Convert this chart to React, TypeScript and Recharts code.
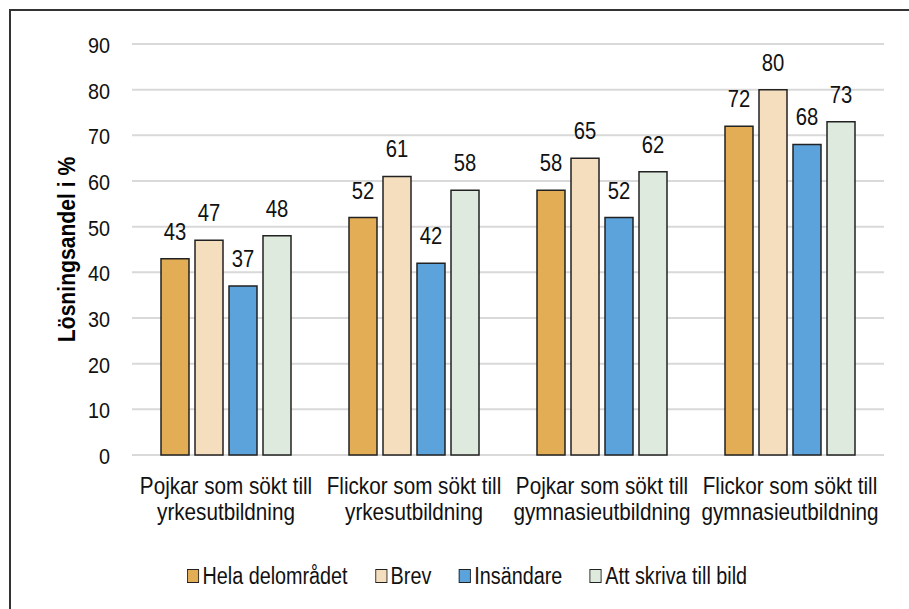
import { BarChart, Bar, XAxis, YAxis, CartesianGrid, Legend, LabelList } from 'recharts';

const categories = [
  'Pojkar som sökt till\nyrkesutbildning',
  'Flickor som sökt till\nyrkesutbildning',
  'Pojkar som sökt till\ngymnasieutbildning',
  'Flickor som sökt till\ngymnasieutbildning',
];
const helaDelomradet = [43, 52, 58, 72];
const brev = [47, 61, 65, 80];
const insandare = [37, 42, 52, 68];
const attSkriva = [48, 58, 62, 73];
const yTicks = [0, 10, 20, 30, 40, 50, 60, 70, 80, 90];

const data = categories.map((cat, i) => ({
  cat,
  hela: helaDelomradet[i],
  brev: brev[i],
  ins: insandare[i],
  bild: attSkriva[i],
}));

const series = [
  { key: 'hela', name: 'Hela delområdet', color: '#E3AD55' },
  { key: 'brev', name: 'Brev', color: '#F5DEBE' },
  { key: 'ins', name: 'Insändare', color: '#5BA3DA' },
  { key: 'bild', name: 'Att skriva till bild', color: '#DDEADD' },
];

// the original font is a bit narrow, so text is squeezed sideways
const SQUEEZE = 0.88;

function CategoryTick({ x, y, payload }: any) {
  const lines = String(payload.value).split('\n');
  return (
    <text transform={`translate(${x},${y}) scale(${SQUEEZE},1)`} textAnchor="middle" fill="#111" fontSize={23.5}>
      {lines.map((line, i) => (
        <tspan key={i} x={0} dy={i === 0 ? 39 : 26}>
          {line}
        </tspan>
      ))}
    </text>
  );
}

function ValueTick({ x, y, payload }: any) {
  return (
    <text
      transform={`translate(${x},${y}) scale(${SQUEEZE},1)`}
      textAnchor="end"
      dy="0.4em"
      fill="#111"
      fontSize={22.5}
    >
      {payload.value}
    </text>
  );
}

function BarValue({ x, y, width, value }: any) {
  return (
    <text
      transform={`translate(${x + width / 2},${y - 19}) scale(${SQUEEZE},1)`}
      textAnchor="middle"
      fill="#111"
      fontSize={23}
    >
      {value}
    </text>
  );
}

function AxisTitle({ viewBox }: any) {
  const cx = viewBox.x + viewBox.width / 2;
  const cy = viewBox.y + viewBox.height / 2;
  return (
    <text
      transform={`translate(${cx},${cy}) rotate(-90) scale(${SQUEEZE},1)`}
      textAnchor="middle"
      dy="0.36em"
      fill="#000"
      fontSize={24}
      fontWeight="bold"
    >
      Lösningsandel i %
    </text>
  );
}

function LegendContent() {
  return (
    <div
      style={{
        display: 'flex',
        alignItems: 'center',
        height: 30,
        fontSize: 23,
        color: '#111',
        transform: 'scaleX(0.86)',
        transformOrigin: 'left center',
        whiteSpace: 'nowrap',
      }}
    >
      {series.map((s, i) => (
        <div key={s.key} style={{ display: 'flex', alignItems: 'center', marginLeft: i === 0 ? 0 : 32 }}>
          <span
            style={{
              display: 'inline-block',
              width: 12,
              height: 12,
              background: s.color,
              border: '1.5px solid #222',
              marginRight: 4,
            }}
          />
          <span>{s.name}</span>
        </div>
      ))}
    </div>
  );
}

export default function App() {
  return (
    <div
      style={{
        position: 'absolute',
        top: 0,
        left: 0,
        width: 909,
        height: 609,
        overflow: 'hidden',
        background: '#fff',
        fontFamily: '"Liberation Sans", Arial, sans-serif',
      }}
    >
      <div
        style={{
          position: 'absolute',
          left: 9,
          top: 9,
          right: -10,
          bottom: -10,
          borderTop: '2px solid #333',
          borderLeft: '2px solid #333',
        }}
      />
      <BarChart
        width={909}
        height={609}
        data={data}
        margin={{ top: 44, right: 25, left: 0, bottom: 0 }}
        barCategoryGap={29}
        barGap={6}
      >
        <CartesianGrid vertical={false} stroke="#D9D9D9" strokeWidth={2} />
        <XAxis
          dataKey="cat"
          height={124}
          axisLine={false}
          tickLine={false}
          tickSize={0}
          tickMargin={0}
          interval={0}
          tick={<CategoryTick />}
        />
        <YAxis
          width={132}
          domain={[0, 90]}
          ticks={yTicks}
          axisLine={false}
          tickLine={false}
          tickSize={0}
          tickMargin={22}
          tick={<ValueTick />}
          label={<AxisTitle />}
        />
        <Legend
          verticalAlign="bottom"
          content={<LegendContent />}
          wrapperStyle={{ left: 187, top: 561, width: 'auto', height: 30 }}
        />
        {series.map((s) => (
          <Bar
            key={s.key}
            dataKey={s.key}
            name={s.name}
            fill={s.color}
            stroke="#222"
            strokeWidth={1.5}
            isAnimationActive={false}
          >
            <LabelList dataKey={s.key} content={<BarValue />} />
          </Bar>
        ))}
      </BarChart>
    </div>
  );
}
